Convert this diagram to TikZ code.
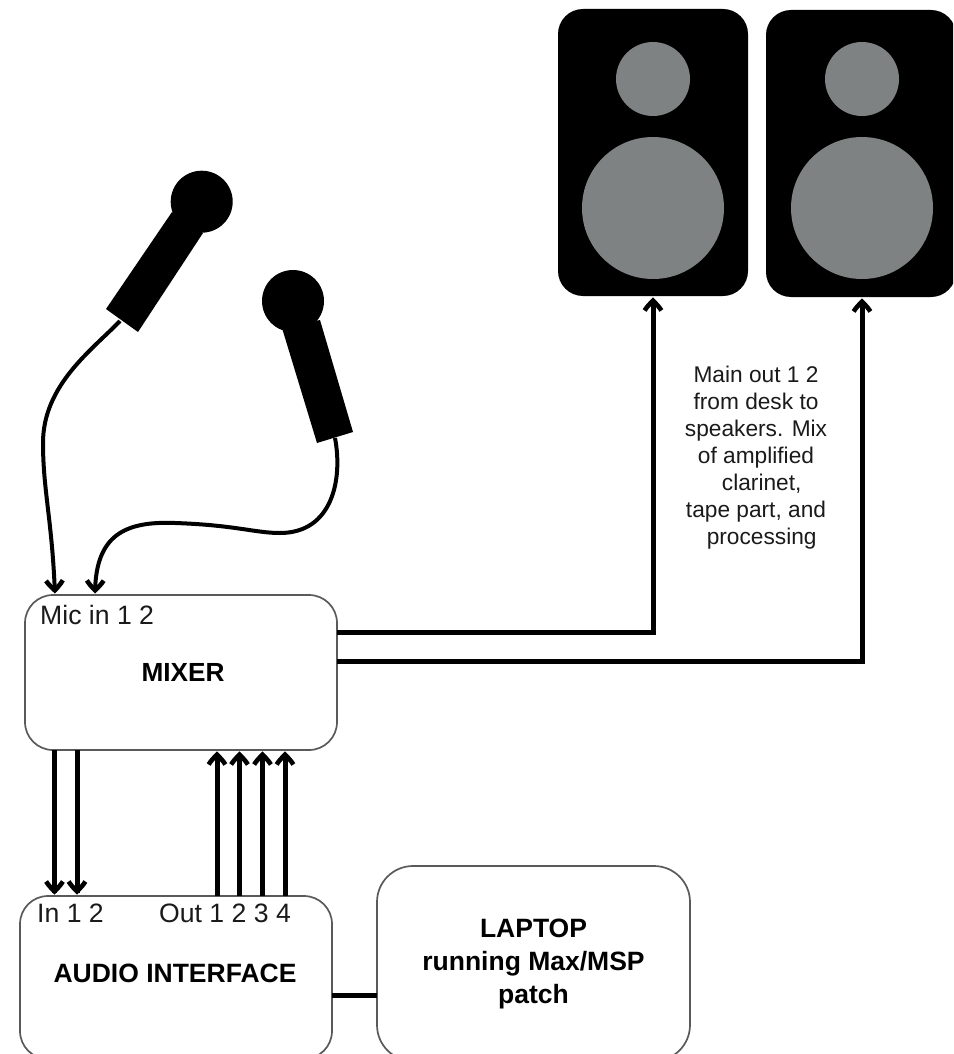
\documentclass[tikz,border=0pt]{standalone}
\usepackage{fontspec}
\setmainfont{Liberation Sans}
\usetikzlibrary{arrows.meta,calc}
\definecolor{boxline}{HTML}{5A5A5A}
\definecolor{cone}{HTML}{7F8282}
\definecolor{txt}{HTML}{1A1A1A}
\pgfdeclarearrow{
  name=HeavyBarb,
  setup code={
    \pgfarrowssettipend{0pt}
    \pgfarrowssetlineend{-3pt}
    \pgfarrowssetvisualbackend{-13pt}
    \pgfarrowssetbackend{-13pt}
    \pgfarrowshullpoint{0pt}{0pt}
    \pgfarrowshullpoint{-13pt}{10pt}
    \pgfarrowshullpoint{-13pt}{-10pt}
  },
  drawing code={
    \pgfsetlinewidth{4.6pt}
    \pgfsetbuttcap
    \pgfsetmiterjoin
    \pgfpathmoveto{\pgfpoint{-14pt}{8.4pt}}
    \pgfpathcurveto{\pgfpoint{-10.5pt}{6.2pt}}{\pgfpoint{-7pt}{3pt}}{\pgfpoint{-4.2pt}{0pt}}
    \pgfpathcurveto{\pgfpoint{-7pt}{-3pt}}{\pgfpoint{-10.5pt}{-6.2pt}}{\pgfpoint{-14pt}{-8.4pt}}
    \pgfusepathqstroke
  }
}
\tikzset{
  x=1pt,y=-1pt,
  boxnode/.style={draw=boxline,line width=1.7pt,fill=white,rounded corners=#1,inner sep=0pt,outer sep=0pt,anchor=north west,align=center,text=black},
  boxnode/.default=28pt,
  speaker/.style={fill=black,rounded corners=25pt,inner sep=0pt,outer sep=0pt,anchor=north west},
  conecirc/.style={circle,fill=cone,inner sep=0pt,outer sep=0pt},
  headcirc/.style={circle,fill=black,inner sep=0pt,outer sep=0pt,minimum size=62pt},
  wire/.style={line width=5pt,black,-{HeavyBarb},shorten >=0.5pt},
  cable/.style={line width=4pt,black,-{HeavyBarb},shorten >=0.5pt},
  plainlink/.style={line width=5pt,black},
  bold/.style={font=\fontsize{26.5}{33}\selectfont\bfseries,align=center},
  port/.style={font=\fontsize{26.6}{30}\selectfont,text=txt,inner sep=0pt,anchor=base west},
  note/.style={font=\fontsize{22.7}{27}\selectfont,align=center,text=txt,inner sep=0pt}
}
\begin{document}
\begin{tikzpicture}
\useasboundingbox (0,0) rectangle (953,1054);
\clip (0,0) rectangle (953,1054);
% speakers
\node[speaker,minimum width=190pt,minimum height=287pt] (spkL) at (558,9) {};
\node[speaker,minimum width=190pt,minimum height=287pt] (spkR) at (766,10) {};
\node[conecirc,minimum size=74pt] (twL) at (653,79) {};
\node[conecirc,minimum size=142pt] (woL) at (653,208) {};
\node[conecirc,minimum size=74pt] (twR) at (862,79) {};
\node[conecirc,minimum size=142pt] (woR) at (862,208) {};
% microphones
\node[headcirc] (head1) at (201.7,201.7) {};
\fill[black] (106,309) -- (138,332) -- (203,233) -- (172,212) -- cycle;
\node[headcirc] (head2) at (293,301) {};
\fill[black] (282,328) -- (320,320) -- (353,432) -- (317,443) -- cycle;
\coordinate (mic1end) at (120,321);
\coordinate (mic2end) at (335,438);
% boxes
\node[boxnode,minimum width=312pt,minimum height=155pt,font=\fontsize{26.2}{33}\selectfont\bfseries] (mixer) at (25,595) {\hspace*{4pt}MIXER};
\node[boxnode,minimum width=312pt,minimum height=163pt] (audio) at (20,896) {};
\node[boxnode=36pt,minimum width=313pt,minimum height=195pt,font=\fontsize{26.5}{33}\selectfont\bfseries] (laptop) at (377,866) {LAPTOP\\running Max/MSP\\patch};
% labels
\node[port] (micin) at (40,624) {Mic in 1 2};
\node[port] (inlab) at (37,922) {In 1 2};
\node[port] (outlab) at (159,922) {Out 1 2 3 4};
\node[bold,inner sep=0pt] (audiolab) at (175,973) {AUDIO INTERFACE};
\node[note] (mainnote) at (756,457.5) {Main out 1 2\\from desk to\\speakers. Mix\\of amplified\\\hspace*{.5em}clarinet,\\tape part, and\\\hspace*{.5em}processing};
% connectors
\coordinate (micA) at (55,595);
\coordinate (micB) at (95,595);
\draw[cable] (mic1end) .. controls (92,350) and (43,385) .. (43,443) .. controls (43,490) and (52,520) .. (micA);
\draw[cable] (mic2end) .. controls (343,480) and (332,533) .. (280,533) .. controls (255,533) and (235,525) .. (175,523) .. controls (125,521) and (96,535) .. (micB);
\foreach \n/\xa in {a/54.5,b/77}{
  \draw[wire] (mixer.south west -| \xa,0) -- (audio.north west -| \xa,0);
}
\foreach \n/\xa in {c/217,d/239.5,e/262.5,f/285}{
  \draw[wire] (audio.north west -| \xa,0) -- (mixer.south west -| \xa,0);
}
\draw[wire] (mixer.east |- 0,632) -| (spkL.south -| twL);
\draw[wire] (mixer.east |- 0,661) -| (spkR.south -| twR);
\draw[plainlink] (audio.east |- 0,995) -- (laptop.west |- 0,995);
\end{tikzpicture}
\end{document}
